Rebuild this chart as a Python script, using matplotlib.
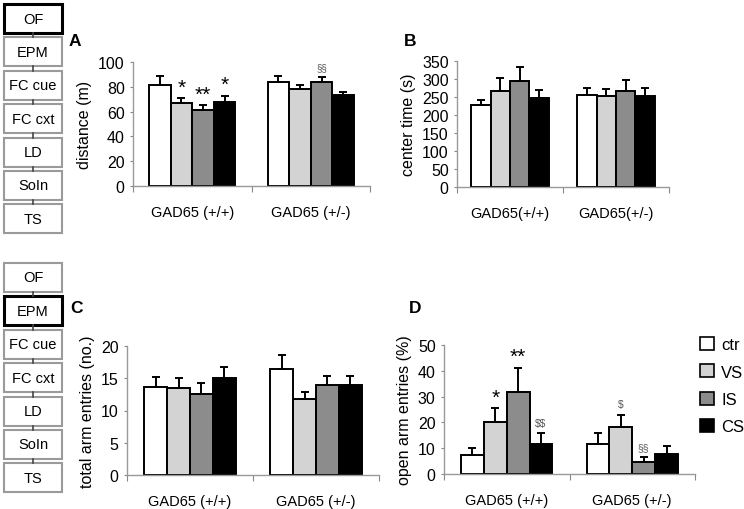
import matplotlib
matplotlib.use("Agg")
import matplotlib.pyplot as plt
from matplotlib.patches import Rectangle, Patch
import numpy as np

plt.rcParams['font.family'] = ['Liberation Sans', 'DejaVu Sans']

groups = ['ctr', 'VS', 'IS', 'CS']
colors = ['white', '#d3d3d3', '#8c8c8c', 'black']

# panel A - distance (m)
dist_wt = [81.5, 67, 61, 68]
dist_wt_err = [7.5, 4, 4, 4.6]
dist_het = [84, 78.5, 84, 73.7]
dist_het_err = [5, 3, 4, 2.1]

# panel B - center time (s)
center_wt = [229, 266, 295, 246]
center_wt_err = [14, 37, 38, 23]
center_het = [256, 253, 268, 252]
center_het_err = [18, 19, 30, 24]

# panel C - total arm entries (no.)
total_wt = [13.7, 13.5, 12.5, 15]
total_wt_err = [1.5, 1.6, 1.7, 1.75]
total_het = [16.5, 11.75, 14, 14]
total_het_err = [2.1, 1.15, 1.4, 1.4]

# panel D - open arm entries (%)
open_wt = [7.4, 20.1, 31.8, 11.6]
open_wt_err = [2.8, 5.5, 9.2, 4.3]
open_het = [11.8, 18.3, 4.8, 7.9]
open_het_err = [4, 4.5, 1.8, 3]

tests = ['OF', 'EPM', 'FC cue', 'FC cxt', 'LD', 'SoIn', 'TS']

W, H = 744, 510
fig = plt.figure(figsize=(W / 100, H / 100), dpi=100)


def box(px):
    # px = (left, top, right, bottom) in pixels
    l, t, r, b = px
    return [l / W, 1 - b / H, (r - l) / W, (b - t) / H]


def bars(ax, wt, wt_err, het, het_err, ymax, step, ylabel, xlabels, letter, lpos):
    w = 0.182
    offs = (np.arange(4) - 1.5) * w
    for i in range(4):
        xs = [0.5 + offs[i], 1.5 + offs[i]]
        vals = [wt[i], het[i]]
        errs = [wt_err[i], het_err[i]]
        ax.bar(xs, vals, w, color=colors[i], edgecolor='black', linewidth=1.4, zorder=2)
        ax.errorbar(xs, vals, yerr=[[0, 0], errs], fmt='none', ecolor='black',
                    elinewidth=1.4, capsize=3, capthick=1.4, zorder=3)
    ax.set_xlim(0, 2)
    ax.set_ylim(0, ymax)
    ax.set_yticks(np.arange(0, ymax + 0.1, step))
    ax.set_xticks([0, 1, 2])
    ax.set_xticklabels([])
    ax.set_xticks([0.5, 1.5], minor=True)
    ax.set_xticklabels(xlabels, minor=True, fontsize=10.5)
    ax.tick_params(axis='x', which='major', length=4, color='#888888', direction='out')
    ax.tick_params(axis='x', which='minor', length=0, pad=14)
    ax.tick_params(axis='y', length=2, color='#888888', labelsize=11.5, pad=4)
    for s in ['top', 'right']:
        ax.spines[s].set_visible(False)
    for s in ['left', 'bottom']:
        ax.spines[s].set_color('#999999')
        ax.spines[s].set_linewidth(1)
    ax.set_ylabel(ylabel, fontsize=11.5, labelpad=4)
    ax.text(lpos[0], lpos[1], letter, transform=ax.transAxes, fontsize=12.5, fontweight='bold',
            va='center', ha='left')
    return offs


axA = fig.add_axes(box((133, 63, 370, 187)))
offs = bars(axA, dist_wt, dist_wt_err, dist_het, dist_het_err, 100, 20, 'distance (m)',
            ['GAD65 (+/+)', 'GAD65 (+/-)'], 'A', (-0.27, 1.17))
axA.text(0.5 + offs[1], 72, '*', ha='center', va='bottom', fontsize=15)
axA.text(0.5 + offs[2], 66, '**', ha='center', va='bottom', fontsize=15)
axA.text(0.5 + offs[3], 74, '*', ha='center', va='bottom', fontsize=15)
axA.text(1.5 + offs[2], 92, '§§', ha='center', va='bottom', fontsize=7, color='#555555')

axB = fig.add_axes(box((457, 62, 669, 188)))
bars(axB, center_wt, center_wt_err, center_het, center_het_err, 350, 50, 'center time (s)',
     ['GAD65(+/+)', 'GAD65(+/-)'], 'B', (-0.25, 1.16))

axC = fig.add_axes(box((127, 347, 379, 476)))
bars(axC, total_wt, total_wt_err, total_het, total_het_err, 20, 5, 'total arm entries (no.)',
     ['GAD65 (+/+)', 'GAD65 (+/-)'], 'C', (-0.226, 1.30))

axD = fig.add_axes(box((444, 346, 695, 475)))
bars(axD, open_wt, open_wt_err, open_het, open_het_err, 50, 10, 'open arm entries (%)',
     ['GAD65 (+/+)', 'GAD65 (+/-)'], 'D', (-0.14, 1.29))
axD.text(0.5 + offs[1], 26, '*', ha='center', va='bottom', fontsize=15)
axD.text(0.5 + offs[2], 42, '**', ha='center', va='bottom', fontsize=15)
axD.text(0.5 + offs[3], 18, r'\$\$', ha='center', va='bottom', fontsize=7.5, color='#555555')
axD.text(1.5 + offs[1], 25, r'\$', ha='center', va='bottom', fontsize=7.5, color='#555555')
axD.text(1.5 + offs[2], 8.5, '§§', ha='center', va='bottom', fontsize=7.5, color='#555555')

handles = [Patch(facecolor=c, edgecolor='black', linewidth=1.2) for c in colors]
fig.legend(handles, groups, loc='upper left', bbox_to_anchor=(693 / W, 1 - 331 / H),
           frameon=False, fontsize=12, handlelength=0.85, handleheight=0.85,
           handletextpad=0.45, labelspacing=0.72, borderaxespad=0)

# test selection boxes on the left
for top0, active in [(5, 'OF'), (264, 'EPM')]:
    for i, name in enumerate(tests):
        t = top0 + 33.4 * i
        if name == active:
            ec, lw = 'black', 2.2
        else:
            ec, lw = '#9a9a9a', 1.5
        fig.patches.append(Rectangle((4 / W, 1 - (t + 29) / H), 58 / W, 29 / H,
                                     transform=fig.transFigure, facecolor='white',
                                     edgecolor=ec, linewidth=lw))
        fig.text(33 / W, 1 - (t + 14.5) / H, name, ha='center', va='center', fontsize=10.5)
        if i < len(tests) - 1:
            # small connector between boxes
            fig.lines.append(plt.Line2D([33 / W, 33 / W], [1 - (t + 29) / H, 1 - (t + 33.4) / H],
                                        transform=fig.transFigure, color='#444444', lw=1.2))

fig.savefig('out.png', dpi=100)
